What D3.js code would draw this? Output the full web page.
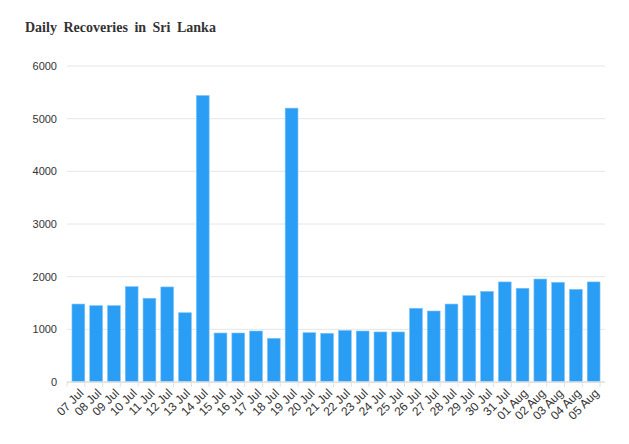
<!DOCTYPE html>
<html>
<head>
<meta charset="utf-8">
<script src="https://cdn.jsdelivr.net/npm/d3@7"></script>
<style>
  body { margin: 0; background: #fff; }
  text { font-family: Arial, "Liberation Sans", sans-serif; }
</style>
</head>
<body>
<svg id="chart" width="629" height="444"></svg>
<script>
// Daily recoveries, Sri Lanka
const dates = ["07 Jul","08 Jul","09 Jul","10 Jul","11 Jul","12 Jul","13 Jul","14 Jul","15 Jul","16 Jul",
  "17 Jul","18 Jul","19 Jul","20 Jul","21 Jul","22 Jul","23 Jul","24 Jul","25 Jul","26 Jul",
  "27 Jul","28 Jul","29 Jul","30 Jul","31 Jul","01 Aug","02 Aug","03 Aug","04 Aug","05 Aug"];
const recoveries = [1480,1450,1450,1810,1590,1805,1315,5440,930,930,
  968,830,5200,936,925,980,968,950,950,1400,
  1348,1480,1640,1720,1900,1780,1955,1893,1760,1900];
const yTicks = [0,1000,2000,3000,4000,5000,6000];

const svg = d3.select("#chart");
const margin = { top: 66, right: 24, bottom: 62, left: 67 };
const width = +svg.attr("width") - margin.left - margin.right;
const height = +svg.attr("height") - margin.top - margin.bottom;

// titol
svg.append("text")
   .attr("x", 25).attr("y", 32)
   .style("font-family", "'Liberation Serif', 'Times New Roman', serif")
   .style("font-weight", "bold")
   .style("font-size", "14px")
   .style("word-spacing", "3px")
   .style("fill", "#333")
   .text("Daily Recoveries in Sri Lanka");

const g = svg.append("g").attr("transform", `translate(${margin.left},${margin.top})`);

const x = d3.scaleBand().domain(dates).range([0, width]).padding(0.28);
const y = d3.scaleLinear().domain([0, 6000]).range([height, 0]);

// graella
g.append("g")
 .selectAll("line")
 .data(yTicks)
 .enter().append("line")
 .attr("x1", 0).attr("x2", width)
 .attr("y1", d => y(d)).attr("y2", d => y(d))
 .style("stroke", "#e6e6e6")
 .style("stroke-width", 1);

// eix Y
g.append("g")
 .call(d3.axisLeft(y).tickValues(yTicks).tickFormat(d3.format("d")).tickSize(0).tickPadding(10))
 .call(s => s.select(".domain").remove())
 .selectAll("text")
 .style("fill", "#333")
 .style("font-size", "11px");

// barres
g.selectAll(".bar")
 .data(recoveries)
 .enter().append("rect")
 .attr("class", "bar")
 .attr("x", (d, i) => x(dates[i]))
 .attr("y", d => y(d))
 .attr("width", x.bandwidth())
 .attr("height", d => height - y(d))
 .style("fill", "#2a9df4")
 .style("stroke", "#7cc3f8")
 .style("stroke-width", 0.6);

// eix X amb marques entre categories
const xAxis = g.append("g").attr("transform", `translate(0,${height})`);
xAxis.append("line")
     .attr("x1", 0).attr("x2", width)
     .style("stroke", "#e0e0e0").style("stroke-width", 1.5);
const step = x.step();
xAxis.selectAll(".tk")
     .data(d3.range(dates.length + 1))
     .enter().append("line")
     .attr("x1", i => i * step).attr("x2", i => i * step)
     .attr("y1", 0).attr("y2", 5)
     .style("stroke", "#e0e0e0");
xAxis.selectAll(".lbl")
     .data(dates)
     .enter().append("text")
     .attr("transform", d => `translate(${x(d) + x.bandwidth() / 2 + 3},${9}) rotate(-45)`)
     .style("text-anchor", "end")
     .style("font-size", "12px")
     .style("fill", "#333")
     .attr("dy", "0.35em")
     .text(d => d);
</script>
</body>
</html>
